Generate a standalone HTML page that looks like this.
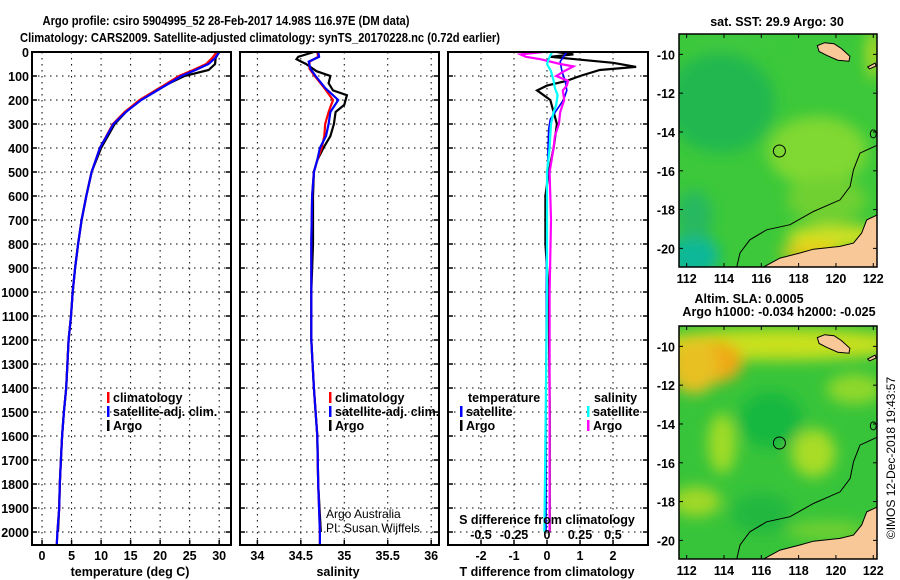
<!DOCTYPE html>
<html><head><meta charset="utf-8"><title>Argo profile</title>
<style>
html,body{margin:0;padding:0;background:#fff;}
svg{display:block;font-family:"Liberation Sans",sans-serif;}
.b{font-weight:bold;font-size:13px;}
.t{font-weight:bold;font-size:12.5px;}
</style></head>
<body>
<svg id="fig" width="900" height="580" viewBox="0 0 900 580" xmlns="http://www.w3.org/2000/svg">
<defs>
<filter id="blur" x="-20%" y="-20%" width="140%" height="140%"><feGaussianBlur stdDeviation="7"/></filter>
<clipPath id="c1"><rect x="679" y="34" width="198" height="233"/></clipPath>
<clipPath id="c2"><rect x="679" y="326" width="198" height="233"/></clipPath>
</defs>
<text class="b" x="226" y="25" text-anchor="middle" textLength="367" lengthAdjust="spacingAndGlyphs">Argo profile: csiro 5904995_52 28-Feb-2017 14.98S 116.97E (DM data)</text>
<text class="b" x="260" y="42" text-anchor="middle" textLength="480" lengthAdjust="spacingAndGlyphs">Climatology: CARS2009. Satellite-adjusted climatology: synTS_20170228.nc (0.72d earlier)</text>
<g id="panels"></g>
<g id="maps"></g>
<text x="892" y="458" font-size="12" text-anchor="middle" dominant-baseline="middle" transform="rotate(-90 892 458)">©IMOS 12-Dec-2018 19:43:57</text>
</svg>
<script>
// ---- data ----
const depthTicks = [0,100,200,300,400,500,600,700,800,900,1000,1100,1200,1300,1400,1500,1600,1700,1800,1900,2000];
const tempTicks = [0,5,10,15,20,25,30];
const salTicks = [34,34.5,35,35.5,36];
const salTickLabels = ['34','34.5','35','35.5','36'];
const tdiffTicks = [-2,-1,0,1,2];
const sdiffTicks = [-0.5,-0.25,0,0.25,0.5];
const sdiffTickLabels = ['-0.5','-0.25','0','0.25','0.5'];

const depthTemp = [0,25,50,75,100,150,200,250,300,400,500,600,700,800,900,1000,1100,1200,1400,1500,1600,1700,1800,1900,2000,2050];
const tempClim  = [29.6,28.8,27.8,25.6,23.2,19.9,16.5,14.0,12.0,9.8,8.4,7.5,6.7,6.1,5.6,5.2,4.9,4.5,4.1,3.7,3.4,3.2,3.0,2.9,2.6,2.5];
const tempSat   = [30.0,29.3,28.2,26.0,23.6,20.2,16.8,14.2,12.1,9.8,8.4,7.5,6.7,6.1,5.6,5.2,4.9,4.5,4.1,3.7,3.4,3.2,3.0,2.9,2.6,2.5];
const tempArgo  = [30.0,29.4,29.3,28.2,24.1,19.9,16.6,14.2,12.3,10.0,8.4,7.5,6.7,6.1,5.6,5.2,4.9,4.5,4.1,3.7,3.4,3.2,3.0,2.9,2.7];

const depthSal = [0,20,40,70,100,150,200,250,300,350,400,450,500,600,800,1000,1200,1400,1600,1800,2000,2050];
const salClim = [34.69,34.70,34.60,34.60,34.66,34.77,34.87,34.82,34.78,34.77,34.74,34.69,34.65,34.63,34.62,34.62,34.62,34.65,34.69,34.70,34.72,34.72];
const salSat  = [34.70,34.71,34.59,34.61,34.67,34.78,34.93,34.84,34.82,34.79,34.72,34.69,34.65,34.63,34.62,34.62,34.62,34.65,34.69,34.70,34.72,34.72];
const depthSalArgo = [0,20,30,50,80,100,130,160,180,220,250,300,350,400,450,500,600,800,1000,1200,1400,1600,1800,2000];
const salArgo = [34.65,34.47,34.45,34.56,34.68,34.84,34.82,34.87,35.03,35.00,34.90,34.88,34.84,34.76,34.69,34.65,34.64,34.64,34.62,34.62,34.65,34.69,34.70,34.73];

const depthDiffT = [0,10,20,45,62,75,100,120,140,160,180,200,250,300,350,400,500,600,800,1000,1500,2000];
const tdiffArgo = [0.3,0.8,0.1,2.0,2.7,1.6,1.0,0.6,0.0,-0.3,-0.1,0.1,0.2,0.3,0.25,0.2,0.05,-0.05,-0.05,0.05,0.08,0.08];
const depthDiffTSat = [0,20,40,80,120,160,200,250,280,320,400,600,1000,1500,2000];
const tdiffSat = [0.6,0.5,0.4,0.45,0.55,0.6,0.5,0.25,0.1,0.05,0.03,0.0,-0.02,-0.03,-0.03];
const depthDiffS = [0,10,20,30,50,60,80,100,120,140,160,200,250,300,350,400,500,700,1000,1500,2000];
const sdiffArgo = [-0.03,-0.2,-0.16,-0.05,0.1,0.2,0.13,0.07,0.16,0.15,0.12,0.13,0.1,0.09,0.06,0.05,0.02,0.03,0.02,0.02,0.02];
const depthDiffSSat = [0,20,50,80,120,150,180,220,250,300,400,500,1000,1500,2000];
const sdiffSat = [0.04,0.02,0.0,0.03,0.05,0.06,0.08,0.07,0.05,0.03,0.02,0.0,0.0,-0.01,-0.02];

const latTicks = [-10,-12,-14,-16,-18,-20];
const lonTicks = [112,114,116,118,120,122];
const argoLon = [116.97];
const argoLat = [-14.98];

// ---- helpers ----
const NS='http://www.w3.org/2000/svg';
const panels=document.getElementById('panels');
const maps=document.getElementById('maps');
function mk(tag,attrs,parent){const e=document.createElementNS(NS,tag);for(const k in attrs)e.setAttribute(k,attrs[k]);(parent||panels).appendChild(e);return e;}
function txt(s,attrs,parent){const e=mk('text',attrs,parent);e.textContent=s;return e;}
const Y0=52, Y1=545, D0=0, D1=2054;
function yD(d){return Y0+(d-D0)/(D1-D0)*(Y1-Y0);}

function panel(name,x0,x1,v0,v1,ticks,tickLabels){
  const g=mk('g',{});
  
  
  const xs=v=>x0+(v-v0)/(v1-v0)*(x1-x0);
  depthTicks.forEach(d=>{ if(d>0) mk('line',{x1:x0,x2:x1,y1:yD(d),y2:yD(d),stroke:'#000','stroke-width':1,'stroke-dasharray':'1.5,4.5'},g);});
  ticks.forEach(v=>{mk('line',{x1:xs(v),x2:xs(v),y1:Y0,y2:Y1,stroke:'#000','stroke-width':1,'stroke-dasharray':'1.5,4.5'},g);
    mk('line',{x1:xs(v),x2:xs(v),y1:Y1,y2:Y1-5,stroke:'#000','stroke-width':1.5},g);});
  depthTicks.forEach(d=>{mk('line',{x1:x0,x2:x0+5,y1:yD(d),y2:yD(d),stroke:'#000','stroke-width':1.5},g);
    mk('line',{x1:x1,x2:x1-5,y1:yD(d),y2:yD(d),stroke:'#000','stroke-width':1.5},g);});
  if(tickLabels){ticks.forEach((v,i)=>{const t=txt(tickLabels[i],{x:xs(v),y:560,'text-anchor':'middle',class:'t'},g);
    
    });}
  return {g,xs};
}
function line(p,xv,dv,color,name,w){
  const pts=xv.map((v,i)=>p.xs(v).toFixed(1)+','+yD(dv[i]).toFixed(1)).join(' ');
  const l=mk('polyline',{points:pts,fill:'none',stroke:color,'stroke-width':w||2.2,'stroke-linejoin':'miter'},p.g);
  
  
}
function frame(p,x0,x1){mk('rect',{x:x0,y:Y0,width:x1-x0,height:Y1-Y0,fill:'none',stroke:'#000','stroke-width':2},p.g);}
function legend(g,x,y,color,label,name){
  mk('rect',{x:x,y:y-10,width:2.5,height:11,fill:color},g);
  const t=txt(label,{x:x+6,y:y,class:'t'},g);
  
  
}

// Panel 1: temperature
const p1=panel('temperature-panel',32,231,-1.7,32,tempTicks,tempTicks.map(String));
line(p1,tempArgo,depthTemp.slice(0,tempArgo.length),'#000','argo-temperature-line');
line(p1,tempClim,depthTemp,'#f00','climatology-temperature-line');
line(p1,tempSat,depthTemp,'#00f','satellite-temperature-line');
frame(p1,32,231);
depthTicks.forEach(d=>{const t=txt(String(d),{x:29,y:yD(d)+5,'text-anchor':'end',class:'t'});
  
  });
txt('temperature (deg C)',{x:130,y:576,'text-anchor':'middle',class:'t'});
legend(p1.g,107,402,'#f00','climatology','legend-climatology');
legend(p1.g,107,416,'#00f','satellite-adj. clim.','legend-satellite-adj');
legend(p1.g,107,430,'#000','Argo','legend-argo');

// Panel 2: salinity
const p2=panel('salinity-panel',240,439,33.8,36.09,salTicks,salTickLabels);
line(p2,salArgo,depthSalArgo,'#000','argo-salinity-line');
line(p2,salClim,depthSal,'#f00','climatology-salinity-line');
line(p2,salSat,depthSal,'#00f','satellite-salinity-line');
frame(p2,240,439);
txt('salinity',{x:338,y:576,'text-anchor':'middle',class:'t'});
legend(p2.g,329,402,'#f00','climatology','legend-climatology-2');
legend(p2.g,329,416,'#00f','satellite-adj. clim.','legend-satellite-adj-2');
legend(p2.g,329,430,'#000','Argo','legend-argo-2');
txt('Argo Australia',{x:326,y:518,'font-size':12},p2.g);
txt('PI: Susan Wijffels',{x:326,y:532,'font-size':12},p2.g);

// Panel 3: differences
const p3=panel('difference-panel',448,648,-3.0,3.06,tdiffTicks,tdiffTicks.map(String));
const sx=v=>547+v/0.5*66;
line(p3,tdiffArgo,depthDiffT,'#000','argo-temperature-diff-line');
line(p3,tdiffSat,depthDiffTSat,'#00f','satellite-temperature-diff-line',1.6);
line({g:p3.g,xs:sx},sdiffArgo,depthDiffS,'#f0f','argo-salinity-diff-line');
line({g:p3.g,xs:sx},sdiffSat,depthDiffSSat,'#0ff','satellite-salinity-diff-line');
frame(p3,448,648);
txt('temperature',{x:468,y:402,class:'t'},p3.g);
legend(p3.g,460,416,'#00f','satellite','legend-t-satellite');
legend(p3.g,460,430,'#000','Argo','legend-t-argo');
txt('salinity',{x:594,y:402,class:'t'},p3.g);
legend(p3.g,587,416,'#0ff','satellite','legend-s-satellite');
legend(p3.g,587,430,'#f0f','Argo','legend-s-argo');
txt('S difference from climatology',{x:547,y:524,'text-anchor':'middle',class:'t'},p3.g);
sdiffTicks.forEach((v,i)=>{const t=txt(sdiffTickLabels[i],{x:sx(v),y:539,'text-anchor':'middle',class:'t'},p3.g);
  
  });
txt('T difference from climatology',{x:547,y:576,'text-anchor':'middle',class:'t'});

// ---- maps ----
const sumba=[[119.0,-9.55],[119.4,-9.4],[119.9,-9.45],[120.3,-9.7],[120.75,-10.1],[120.7,-10.35],[120.1,-10.3],[119.5,-10.05],[119.1,-9.85]];
const savu=[[121.7,-10.65],[122.1,-10.45],[122.15,-10.6],[121.8,-10.75]];
const coast=[[122.3,-18.2],[122.23,-18.27],[121.65,-18.53],[121.38,-19.21],[120.94,-19.73],[120.22,-19.9],[118.79,-20.04],[118.07,-20.24],[117.0,-20.5],[116.1,-20.97],[122.3,-20.97]];
const iso=[[114.68,-20.97],[114.86,-20.24],[115.39,-19.56],[116.29,-19.04],[117.54,-18.78],[118.79,-18.10],[120.22,-17.50],[120.76,-16.81],[120.94,-15.95],[121.29,-15.09],[122.23,-14.67]];
function map(name,top,clip,blobs){
  const g=mk('g',{},maps);
  
  
  const x0=679,x1=877,h=233;
  const lx=v=>x0+(v-111.59)/(122.2-111.59)*(x1-x0);
  const ly=v=>top+(-8.95-v)/12.01*h;
  const P=a=>a.map(p=>lx(p[0]).toFixed(1)+','+ly(p[1]).toFixed(1)).join(' ');
  const c=mk('g',{'clip-path':'url(#'+clip+')'},g);
  mk('rect',{x:x0,y:top,width:x1-x0,height:h,fill:blobs.base},c);
  const bg=mk('g',{filter:'url(#blur)'},c);
  blobs.list.forEach(b=>mk('ellipse',{cx:lx(b[0]),cy:ly(b[1]),rx:b[2],ry:b[3],fill:b[4]},bg));
  mk('polygon',{points:P(sumba),fill:'#f8c898',stroke:'#000','stroke-width':1},c);
  mk('polygon',{points:P(savu),fill:'#f8c898',stroke:'#000','stroke-width':1},c);
  mk('polygon',{points:P(coast),fill:'#f8c898',stroke:'#000','stroke-width':1},c);
  mk('polyline',{points:P(iso),fill:'none',stroke:'#000','stroke-width':1},c);
  mk('ellipse',{cx:lx(122.0),cy:ly(-14.1),rx:3,ry:4,fill:'none',stroke:'#000','stroke-width':1},c);
  const ac=mk('circle',{cx:lx(argoLon[0]),cy:ly(argoLat[0]),r:6,fill:'none',stroke:'#000','stroke-width':1},g);
  
  
  mk('rect',{x:x0,y:top,width:x1-x0,height:h,fill:'none',stroke:'#000','stroke-width':1.5},g);
  latTicks.forEach(v=>{mk('line',{x1:x0,x2:x0+4,y1:ly(v),y2:ly(v),stroke:'#000'},g);mk('line',{x1:x1,x2:x1-4,y1:ly(v),y2:ly(v),stroke:'#000'},g);
    const t=txt(String(v),{x:675,y:ly(v)+5,'text-anchor':'end',class:'t'},g);
    
    });
  lonTicks.forEach(v=>{mk('line',{x1:lx(v),x2:lx(v),y1:top+h,y2:top+h-4,stroke:'#000'},g);
    mk('line',{x1:lx(v),x2:lx(v),y1:top,y2:top+4,stroke:'#000'},g);
    const t=txt(String(v),{x:lx(v),y:top+h+16,'text-anchor':'middle',class:'t'},g);
    
    });
}
map('sst-map',34,'c1',{base:'#3cc83a',list:[
 [113.8,-12.5,55,50,'#22b850'],[112.4,-20.4,25,22,'#10b898'],[112.4,-18.3,18,25,'#28b860'],
 [119,-15,50,35,'#80d830'],[119.5,-17.5,40,22,'#70d030'],[120,-19.4,50,12,'#d0e020'],[118.6,-20.2,30,8,'#f0c818'],
 [122,-10,6,25,'#c8dc20'],[114.5,-9.3,45,8,'#40c840']]});
map('sla-map',326,'c2',{base:'#38c43a',list:[
 [117,-9.9,130,16,'#c8e01c'],[113.2,-10.8,34,22,'#f0a818'],[112.4,-11,25,28,'#e8c020'],
 [113.9,-15,14,30,'#a0dc28'],[118.8,-15.5,22,24,'#a8dc28'],[112.5,-18,25,15,'#a0d828'],
 [116.5,-13.8,32,28,'#18b840'],[121,-12.2,28,15,'#90d82c'],[116,-18.6,30,20,'#20b840'],[119.5,-19.5,40,10,'#70d030']]});
txt('sat. SST: 29.9 Argo: 30',{x:777,y:26,'text-anchor':'middle',class:'t'},maps);
txt('Altim. SLA: 0.0005',{x:749,y:303,'text-anchor':'middle',class:'t'},maps);
txt('Argo h1000: -0.034 h2000: -0.025',{x:779,y:316,'text-anchor':'middle',class:'t'},maps);
</script>
</body></html>
